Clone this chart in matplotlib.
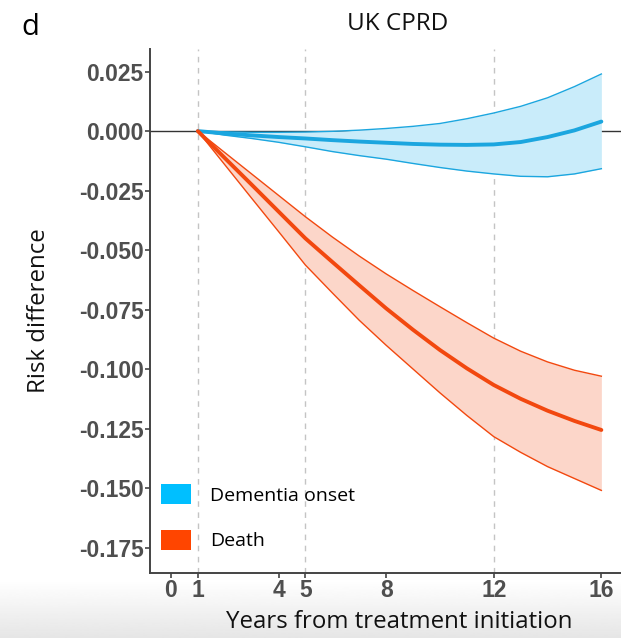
import numpy as np
import matplotlib.pyplot as plt
from matplotlib.patches import Patch

plt.rcParams['axes.unicode_minus'] = False

# years since treatment initiation
years = [1, 2, 3, 4, 5, 6, 7, 8, 9, 10, 11, 12, 13, 14, 15, 16]

# dementia onset: risk difference and 95% band
dem_mean = [0, -0.0010, -0.0018, -0.0025, -0.0031, -0.0038, -0.0044, -0.0049,
            -0.0054, -0.0057, -0.0058, -0.0056, -0.0046, -0.0025, 0.0003, 0.0040]
dem_upper = [0, -0.0003, -0.0005, -0.0005, -0.0004, -0.0001, 0.0004, 0.0011,
             0.0020, 0.0032, 0.0052, 0.0076, 0.0104, 0.0140, 0.0187, 0.0240]
dem_lower = [0, -0.0017, -0.0031, -0.0047, -0.0066, -0.0086, -0.0103, -0.0118,
             -0.0136, -0.0153, -0.0168, -0.0180, -0.0190, -0.0192, -0.0180, -0.0158]

# death: risk difference and 95% band
death_mean = [0, -0.0113, -0.0225, -0.0338, -0.0451, -0.0550, -0.0648, -0.0745,
              -0.0835, -0.0920, -0.0997, -0.1067, -0.1125, -0.1175, -0.1218, -0.1256]
death_upper = [0, -0.0090, -0.0180, -0.0270, -0.0360, -0.0445, -0.0525, -0.0600,
               -0.0670, -0.0738, -0.0805, -0.0870, -0.0925, -0.0970, -0.1005, -0.1030]
death_lower = [0, -0.0141, -0.0282, -0.0422, -0.0563, -0.0680, -0.0795, -0.0900,
               -0.1000, -0.1100, -0.1195, -0.1284, -0.1350, -0.1410, -0.1460, -0.1510]

xticks = [0, 1, 4, 5, 8, 12, 16]
yticks = [0.025, 0.0, -0.025, -0.05, -0.075, -0.1, -0.125, -0.15, -0.175]
landmarks = [1, 5, 12]

blue_line, blue_fill, blue_key = '#1ba6df', '#c9ecfa', '#00bfff'
red_line, red_fill, red_key = '#f2480f', '#fcd6c9', '#ff4500'

fig = plt.figure(figsize=(6.21, 6.38), dpi=100)

# faint grey shading along the bottom edge
bg = fig.add_axes([0, 0, 1, 0.09], zorder=-5)
grad = np.linspace(0.90, 1.0, 60).reshape(-1, 1)
bg.imshow(grad, cmap='gray', vmin=0, vmax=1, aspect='auto', origin='lower',
          extent=[0, 1, 0, 1])
bg.axis('off')

ax = fig.add_axes([0.2423, 0.1019, 0.7577, 0.8213])
ax.patch.set_alpha(0)

for x in landmarks:
    ax.axvline(x, color='#c4c4c4', lw=1.0, ls=(0, (4, 4)), zorder=1)
ax.axhline(0, color='#333333', lw=1.0, zorder=2)

ax.fill_between(years, dem_lower, dem_upper, color=blue_fill, lw=0, zorder=3)
ax.plot(years, dem_upper, color=blue_line, lw=1.0, zorder=4)
ax.plot(years, dem_lower, color=blue_line, lw=1.0, zorder=4)
ax.plot(years, dem_mean, color=blue_line, lw=2.8, zorder=5, solid_capstyle='round')

ax.fill_between(years, death_lower, death_upper, color=red_fill, lw=0, zorder=3)
ax.plot(years, death_upper, color=red_line, lw=1.0, zorder=4)
ax.plot(years, death_lower, color=red_line, lw=1.0, zorder=4)
ax.plot(years, death_mean, color=red_line, lw=2.8, zorder=5, solid_capstyle='round')

ax.set_xlim(-0.76, 16.73)
ax.set_ylim(-0.1857, 0.0345)
ax.set_xticks(xticks)
ax.set_xticklabels([str(t) for t in xticks])
ax.set_yticks(yticks)
ax.set_yticklabels(['%.3f' % t for t in yticks])

for s in ['top', 'right']:
    ax.spines[s].set_visible(False)
for s in ['left', 'bottom']:
    ax.spines[s].set_color('#444444')
    ax.spines[s].set_linewidth(1.4)

ax.tick_params(axis='both', direction='out', length=3.5, width=1.2, color='#444444',
               labelcolor='#4f4f4f')
ax.tick_params(axis='x', pad=0.5)
ax.tick_params(axis='y', pad=1.5)
for lab in ax.get_xticklabels() + ax.get_yticklabels():
    lab.set_fontfamily('Liberation Sans')
    lab.set_fontweight('bold')
    lab.set_fontsize(16.5)

ax.set_xlabel('Years from treatment initiation', fontsize=17.3, family='Open Sans',
              color='#111111')
ax.xaxis.set_label_coords(0.528, -0.071)
ax.set_ylabel('Risk difference', fontsize=17.3, family='Open Sans', color='#111111')
ax.yaxis.set_label_coords(-0.212, 0.5)

handles = [Patch(facecolor=blue_key, edgecolor='none', label='Dementia onset'),
           Patch(facecolor=red_key, edgecolor='none', label='Death')]
ax.legend(handles=handles, loc='lower left', bbox_to_anchor=(0.0217, 0.043),
          frameon=False, prop={'family': 'Open Sans', 'size': 14},
          handlelength=1.55, handleheight=1.2, handletextpad=1.0,
          labelspacing=1.3, borderaxespad=0, borderpad=0)

fig.text(0.641, 0.953, 'UK CPRD', ha='center', va='baseline', fontsize=17.5,
         family='Open Sans', color='#111111')
fig.text(0.034, 0.945, 'd', ha='left', va='baseline', fontsize=21,
         family='Open Sans', fontweight='medium', color='#000000')

fig.savefig('out.png', dpi=100)
